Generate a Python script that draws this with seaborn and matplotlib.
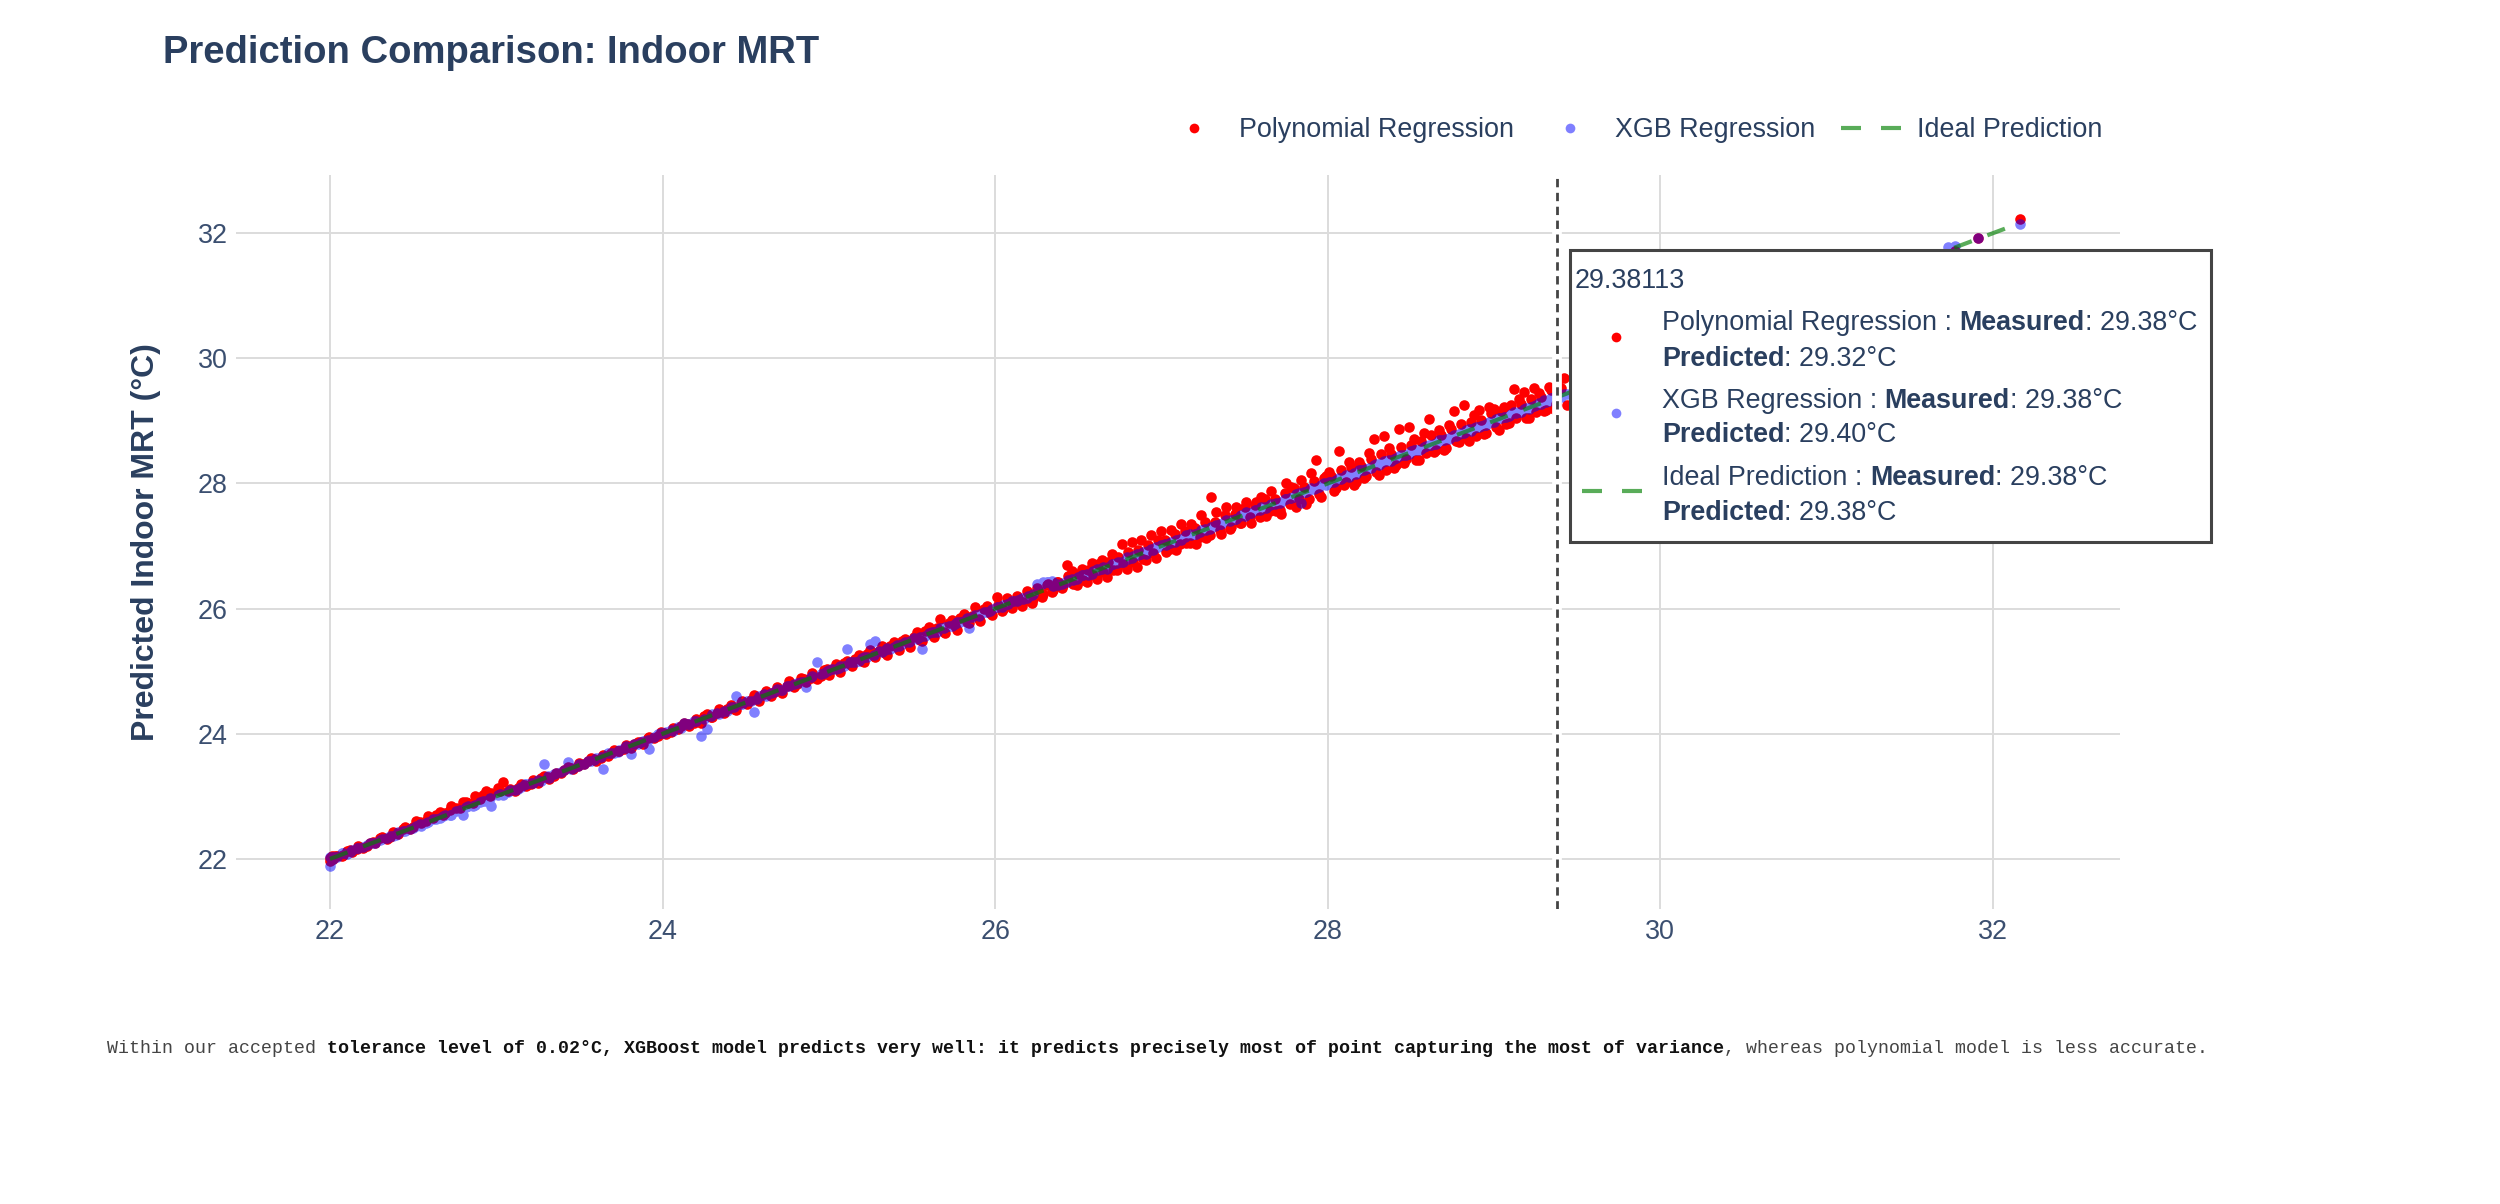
import numpy as np
import pandas as pd
import matplotlib
matplotlib.use("Agg")
import matplotlib.pyplot as plt
import seaborn as sns
from matplotlib.lines import Line2D
from matplotlib.patches import Rectangle

# ---------------- data ----------------
measured = [
    22.00, 22.00, 22.01, 22.02, 22.04, 22.07, 22.10, 22.13, 22.17, 22.20, 22.24, 22.27, 22.31, 22.34, 22.38, 22.41,
    22.45, 22.48, 22.52, 22.55, 22.59, 22.62, 22.66, 22.69, 22.73, 22.76, 22.80, 22.83, 22.87, 22.90, 22.94, 22.97,
    23.01, 23.04, 23.08, 23.11, 23.15, 23.18, 23.22, 23.25, 23.29, 23.32, 23.36, 23.39, 23.43, 23.46, 23.50, 23.53,
    23.57, 23.60, 23.64, 23.67, 23.71, 23.74, 23.78, 23.81, 23.85, 23.88, 23.92, 23.95, 23.99,
    24.02, 24.06, 24.09, 24.13, 24.16, 24.20, 24.23, 24.27, 24.30, 24.34, 24.37, 24.41, 24.44, 24.48, 24.51, 24.55,
    24.58, 24.62, 24.65, 24.69, 24.72, 24.76, 24.79, 24.83, 24.86, 24.90, 24.93, 24.97,
    25.00, 25.04, 25.07, 25.11, 25.14, 25.18, 25.21, 25.25, 25.28, 25.32, 25.35, 25.39, 25.42, 25.46, 25.49, 25.53,
    25.56, 25.60, 25.63, 25.67, 25.70, 25.74, 25.77, 25.81, 25.84, 25.88, 25.91, 25.95, 25.98,
    26.01, 26.04, 26.07, 26.10, 26.13, 26.16, 26.19, 26.22, 26.25, 26.28, 26.31, 26.34, 26.37, 26.40, 26.43, 26.46,
    26.49, 26.52, 26.55, 26.58, 26.61, 26.64, 26.67, 26.70, 26.73, 26.76, 26.79, 26.82, 26.85, 26.88, 26.91, 26.94, 26.97,
    27.00, 27.03, 27.06, 27.09, 27.12, 27.15, 27.18, 27.21, 27.24, 27.27, 27.30, 27.33, 27.36, 27.39, 27.42, 27.45,
    27.48, 27.51, 27.54, 27.57, 27.60, 27.63, 27.66, 27.69, 27.72, 27.75, 27.78, 27.81, 27.84, 27.87, 27.90, 27.93,
    27.96, 27.99,
    28.01, 28.04, 28.07, 28.10, 28.13, 28.16, 28.19, 28.22, 28.25, 28.28, 28.31, 28.34, 28.37, 28.40, 28.43, 28.46,
    28.49, 28.52, 28.55, 28.58, 28.61, 28.64, 28.67, 28.70, 28.73, 28.76, 28.79, 28.82, 28.85, 28.88, 28.91, 28.94,
    28.97, 29.00, 29.03, 29.06, 29.09, 29.12, 29.15, 29.18, 29.21, 29.24, 29.27, 29.30, 29.33, 29.36, 29.39, 29.42, 29.44,
    29.55, 29.80, 30.10, 30.45, 30.90, 31.30, 31.73, 31.77, 31.91, 32.16,
]

# predicted - measured, Polynomial Regression
poly_resid = [
    0.02, -0.04, 0.03, -0.02, 0.01, -0.03, 0.02, -0.02, 0.03, -0.03, 0.02, -0.01, 0.04, -0.02, 0.05, -0.01,
    0.06, 0.00, 0.08, 0.02, 0.10, 0.03, 0.09, 0.04, 0.12, 0.05, 0.11, 0.07, 0.14, 0.06, 0.15, 0.08,
    0.12, 0.19, 0.04, -0.03, 0.05, -0.02, 0.04, -0.03, 0.03, -0.04, 0.02, -0.02, 0.04, -0.03, 0.03, -0.02,
    0.04, -0.04, 0.02, -0.03, 0.03, -0.02, 0.04, -0.03, 0.02, -0.04, 0.03, -0.02, 0.04,
    -0.03, 0.04, -0.02, 0.05, -0.04, 0.03, -0.05, 0.04, -0.03, 0.06, -0.04, 0.05, -0.06, 0.04, -0.03, 0.07,
    -0.05, 0.06, -0.04, 0.05, -0.07, 0.08, -0.05, 0.06, -0.04, 0.07, -0.06, 0.05,
    -0.06, 0.07, -0.08, 0.06, -0.05, 0.08, -0.07, 0.09, -0.06, 0.08, -0.09, 0.07, -0.08, 0.06, -0.10, 0.09,
    -0.07, 0.10, -0.08, 0.16, -0.09, 0.08, -0.11, 0.10, -0.07, 0.14, -0.10, 0.09, -0.08,
    0.18, -0.08, 0.10, -0.09, 0.07, -0.12, 0.09, -0.13, 0.08, -0.10, 0.06, -0.08, 0.05, -0.07, 0.27, 0.14,
    -0.12, 0.12, -0.13, 0.15, -0.14, 0.13, -0.16, 0.18, -0.12, 0.27, -0.15, 0.25, -0.18, 0.22, -0.13, 0.24, -0.16,
    0.24, -0.12, 0.20, -0.15, 0.24, -0.10, 0.18, -0.18, 0.25, -0.14, 0.49, 0.22, -0.16, 0.23, -0.12, 0.17,
    -0.11, 0.20, -0.17, 0.14, 0.19, -0.15, 0.22, -0.13, -0.21, 0.25, 0.16, -0.18, 0.21, -0.20, 0.26, 0.44,
    -0.17, 0.13,
    0.18, -0.16, 0.45, -0.12, 0.22, -0.19, 0.16, -0.14, 0.24, 0.43, -0.17, 0.42, 0.20, -0.15, 0.44, -0.13,
    0.41, 0.19, -0.18, 0.23, 0.42, -0.14, 0.18, -0.16, 0.21, 0.40, -0.12, 0.43, -0.17, 0.22, 0.27, -0.15,
    0.25, 0.19, -0.18, 0.16, -0.13, 0.39, 0.20, 0.28, -0.16, 0.29, 0.18, -0.14, 0.21, -0.17, 0.15, 0.27, -0.18,
    0.05, -0.10, 0.12, -0.06, 0.08, 0.04, -0.08, -0.06, 0.01, 0.06,
]

# predicted - measured, XGB Regression
xgb_resid = [
    -0.11, 0.03, -0.02, 0.01, -0.01, 0.02, -0.02, 0.01, 0.00, -0.01, 0.02, -0.02, 0.01, 0.00, -0.02, 0.02,
    -0.01, 0.00, 0.01, -0.02, 0.00, 0.02, -0.01, 0.01, -0.03, 0.00, -0.10, 0.02, -0.01, 0.01, -0.02, -0.13,
    0.01, -0.02, 0.02, -0.01, 0.00, 0.02, -0.01, 0.01, 0.23, -0.02, 0.01, 0.00, 0.12, -0.01, 0.02, -0.02,
    0.00, 0.01, -0.21, 0.02, -0.01, 0.00, 0.02, -0.13, -0.01, 0.01, -0.17, 0.00, 0.02,
    0.01, -0.01, 0.02, 0.04, -0.01, 0.00, -0.26, -0.19, 0.01, -0.02, 0.00, 0.02, 0.16, -0.01, 0.01, -0.20,
    0.02, -0.01, 0.00, 0.02, -0.02, 0.01, 0.00, -0.01, -0.12, 0.02, 0.21, 0.00,
    0.02, -0.01, 0.01, 0.24, 0.00, -0.02, 0.01, 0.19, 0.21, -0.01, 0.02, 0.00, -0.02, 0.01, 0.00, -0.02,
    -0.20, 0.01, -0.01, 0.02, 0.00, -0.02, 0.01, -0.01, -0.15, 0.02, 0.00, -0.01, 0.02,
    0.01, -0.02, 0.00, 0.02, -0.01, 0.01, -0.02, 0.00, 0.14, 0.12, 0.11, 0.10, 0.02, -0.01, 0.00, 0.02,
    -0.02, 0.01, 0.00, -0.02, 0.03, 0.00, -0.03, 0.02, 0.00, -0.02, 0.03, -0.01, 0.02, 0.00, -0.03, 0.02, 0.01,
    0.02, -0.01, 0.01, 0.00, -0.02, 0.02, 0.00, -0.01, 0.02, -0.02, 0.01, 0.00, -0.01, 0.02, 0.00, -0.02,
    0.01, 0.03, -0.01, 0.00, 0.02, -0.02, 0.01, 0.00, -0.02, 0.01, -0.01, 0.02, -0.15, 0.00, 0.02, -0.01,
    0.01, -0.02,
    0.02, -0.01, 0.01, 0.00, -0.02, 0.01, 0.02, -0.01, 0.00, 0.01, -0.02, 0.02, 0.00, -0.01, 0.01, 0.00,
    -0.02, 0.02, -0.01, 0.00, 0.01, -0.01, 0.02, 0.00, -0.02, 0.01, 0.00, -0.01, 0.02, 0.01, -0.01, 0.00,
    0.02, -0.02, 0.01, 0.00, -0.01, 0.02, 0.00, 0.01, -0.02, 0.00, 0.01, 0.03, -0.01, 0.02, 0.02, 0.01, -0.01,
    0.01, -0.02, 0.03, 0.00, -0.01, 0.02, 0.05, 0.02, 0.01, -0.01,
]

# second batch of observations lying inside the dense core of the band
measured_core = [
    22.03, 22.08, 22.12, 22.16, 22.22, 22.26, 22.30, 22.36, 22.40, 22.44, 22.50, 22.54, 22.58, 22.64, 22.68,
    22.72, 22.78, 22.82, 22.86, 22.92, 22.96,
    23.02, 23.07, 23.13, 23.17, 23.21, 23.27, 23.31, 23.35, 23.41, 23.45, 23.49, 23.55, 23.59, 23.63, 23.69,
    23.73, 23.77, 23.83, 23.87, 23.91, 23.97,
    24.01, 24.05, 24.11, 24.15, 24.19, 24.25, 24.29, 24.33, 24.39, 24.43, 24.47, 24.53, 24.57, 24.61, 24.67,
    24.71, 24.75, 24.81, 24.85, 24.89, 24.95, 24.99,
    25.02, 25.06, 25.09, 25.13, 25.16, 25.20, 25.23, 25.27, 25.30, 25.34, 25.37, 25.41, 25.44, 25.48, 25.51,
    25.55, 25.58, 25.62, 25.65, 25.69, 25.72, 25.76, 25.79, 25.83, 25.86, 25.90, 25.93, 25.97,
    26.02, 26.05, 26.08, 26.11, 26.14, 26.17, 26.20, 26.23, 26.26, 26.29, 26.32, 26.35, 26.38, 26.41, 26.44,
    26.47, 26.50, 26.53, 26.56, 26.59, 26.62, 26.65, 26.68, 26.71, 26.74, 26.77, 26.80, 26.83, 26.86, 26.89,
    26.92, 26.95, 26.98,
    27.02, 27.05, 27.08, 27.11, 27.14, 27.17, 27.20, 27.23, 27.26, 27.29, 27.32, 27.35, 27.38, 27.41, 27.44,
    27.47, 27.50, 27.53, 27.56, 27.59, 27.62, 27.65, 27.68, 27.71, 27.74, 27.77, 27.80, 27.83, 27.86, 27.89,
    27.92, 27.95, 27.98,
    28.02, 28.05, 28.08, 28.11, 28.14, 28.17, 28.20, 28.23, 28.26, 28.29, 28.32, 28.35, 28.38, 28.41, 28.44,
    28.47, 28.50, 28.53, 28.56, 28.59, 28.62, 28.65, 28.68, 28.71, 28.74, 28.77, 28.80, 28.83, 28.86, 28.89,
    28.92, 28.95, 28.98, 29.01, 29.04, 29.07, 29.10, 29.13, 29.16, 29.19, 29.22, 29.25, 29.28, 29.31, 29.34,
    29.37, 29.40,
]
poly_resid_core = [
    0.01, -0.01, 0.02, 0.00, -0.02, 0.01, 0.03, -0.01, 0.02, 0.04, 0.01, 0.05, 0.03, 0.06, 0.02,
    0.07, 0.04, 0.09, 0.03, 0.10, 0.05,
    0.06, 0.02, 0.00, 0.01, -0.01, 0.02, 0.00, -0.02, 0.01, 0.00, -0.01, 0.02, 0.00, -0.01, 0.01,
    0.00, -0.02, 0.01, 0.00, 0.02, -0.01,
    0.01, -0.02, 0.02, 0.00, -0.01, 0.03, -0.02, 0.01, 0.00, -0.03, 0.02, 0.01, -0.02, 0.03, 0.00,
    -0.03, 0.02, -0.01, 0.03, 0.00, -0.02, 0.04,
    0.02, -0.03, 0.04, -0.02, 0.03, -0.04, 0.05, -0.03, 0.02, -0.05, 0.04, -0.02, 0.05, -0.04, 0.03,
    -0.05, 0.06, -0.03, 0.04, -0.06, 0.05, -0.04, 0.06, -0.05, 0.03, -0.06, 0.07, -0.04,
    0.04, -0.05, 0.06, -0.04, 0.03, -0.06, 0.05, -0.07, 0.04, -0.05, 0.07, -0.06, 0.05, -0.04, 0.08,
    -0.07, 0.06, -0.08, 0.05, -0.06, 0.09, -0.07, 0.06, -0.09, 0.08, -0.05, 0.10, -0.08, 0.07, -0.10,
    0.09, -0.06, 0.11,
    0.08, -0.10, 0.12, -0.07, 0.10, -0.12, 0.09, -0.08, 0.13, -0.11, 0.07, -0.09, 0.11, -0.13, 0.08,
    -0.10, 0.12, -0.07, 0.10, -0.12, 0.14, -0.09, 0.08, -0.14, 0.11, -0.10, 0.13, -0.08, 0.09, -0.13,
    0.12, -0.11, 0.10,
    0.10, -0.12, 0.14, -0.09, 0.12, -0.14, 0.08, -0.11, 0.13, -0.10, 0.15, -0.13, 0.09, -0.12, 0.14,
    -0.08, 0.11, -0.15, 0.12, -0.10, 0.16, -0.12, 0.10, -0.14, 0.13, -0.09, 0.15, -0.11, 0.12, -0.13,
    0.10, -0.15, 0.14, -0.10, 0.12, -0.12, 0.16, -0.09, 0.11, -0.14, 0.13, -0.11, 0.10, -0.13, 0.15,
    -0.10, 0.12,
]
xgb_resid_core = [
    0.00, 0.01, -0.01, 0.02, 0.00, -0.01, 0.01, 0.00, -0.02, 0.01, 0.00, 0.02, -0.01, 0.00, 0.01,
    -0.02, 0.00, 0.01, -0.01, 0.00, 0.02,
    0.01, 0.00, -0.01, 0.02, 0.00, -0.02, 0.01, 0.00, 0.01, -0.01, 0.00, 0.02, -0.01, 0.00, 0.01,
    -0.02, 0.00, 0.01, 0.00, -0.01, 0.02,
    0.00, 0.01, -0.01, 0.00, 0.02, -0.01, 0.00, 0.01, -0.02, 0.00, 0.01, 0.00, -0.01, 0.02, 0.00,
    -0.01, 0.01, 0.00, -0.02, 0.01, 0.00, 0.01,
    0.01, -0.01, 0.00, 0.02, -0.02, 0.01, 0.00, -0.01, 0.02, 0.00, -0.02, 0.01, 0.00, -0.01, 0.02,
    0.00, -0.01, 0.01, -0.02, 0.00, 0.01, 0.00, -0.01, 0.02, 0.00, -0.02, 0.01, 0.00,
    0.00, 0.01, -0.01, 0.02, 0.00, -0.02, 0.01, 0.00, 0.12, 0.13, 0.10, 0.01, -0.01, 0.00, 0.02,
    -0.01, 0.01, 0.00, -0.02, 0.01, 0.00, 0.02, -0.01, 0.00, 0.01, -0.02, 0.00, 0.01, -0.01, 0.02,
    0.00, -0.01, 0.01,
    0.01, 0.00, -0.02, 0.01, 0.00, 0.02, -0.01, 0.00, 0.01, -0.02, 0.00, 0.01, 0.02, -0.01, 0.00,
    0.01, -0.02, 0.00, 0.02, -0.01, 0.00, 0.01, 0.00, -0.02, 0.01, 0.00, -0.01, 0.02, 0.00, 0.01,
    -0.01, 0.00, 0.02,
    0.00, 0.01, -0.01, 0.02, 0.00, -0.02, 0.01, 0.00, -0.01, 0.02, 0.00, 0.01, -0.02, 0.00, 0.01,
    -0.01, 0.02, 0.00, -0.01, 0.01, 0.00, -0.02, 0.02, 0.00, 0.01, -0.01, 0.00, 0.02, -0.02, 0.01,
    0.00, -0.01, 0.01, 0.02, 0.00, -0.01, 0.01, 0.00, -0.02, 0.02, 0.00, 0.01, -0.01, 0.00, 0.02,
    0.01, -0.01,
]

series_names = ["Polynomial Regression", "XGB Regression", "Ideal Prediction"]
x_ticks = [22, 24, 26, 28, 30, 32]
y_ticks = [22, 24, 26, 28, 30, 32]
x_limits = [21.435, 32.764]
y_limits = [21.20, 32.93]

hover_x = 29.38113
hover_measured = [29.38, 29.38, 29.38]
hover_predicted = [29.32, 29.40, 29.38]

title_text = "Prediction Comparison: Indoor MRT"
y_label = "Predicted Indoor MRT (°C)"
note_parts = [
    ("Within our accepted ", "normal"),
    ("tolerance level of 0.02°C, XGBoost model predicts very well: it predicts precisely most of point "
     "capturing the most of variance", "bold"),
    (", whereas polynomial model is less accurate.", "normal"),
]

RED = "#ff0000"
BLUE = "#0000ff"
GREEN = "#008000"
INK = "#2a3f5f"
GRID = "#dcdcdc"

df_a = pd.DataFrame({"Measured": measured, "pr": poly_resid, "xr": xgb_resid})
df_b = pd.DataFrame({"Measured": measured_core, "pr": poly_resid_core, "xr": xgb_resid_core})
df = pd.concat([df_a, df_b], ignore_index=True)
df["Polynomial"] = (df["Measured"] + df["pr"]).round(3)
df["XGB"] = (df["Measured"] + df["xr"]).round(3)
df["Ideal"] = df["Measured"]

sns.set_theme(style="white")
plt.rcParams["font.family"] = ["Liberation Sans", "DejaVu Sans"]

W, H = 2500, 1204
fig = plt.figure(figsize=(W / 100, H / 100), dpi=100)
L, R, T, B = 236, 2120, 175, 909
ax = fig.add_axes([L / W, 1 - B / H, (R - L) / W, (B - T) / H])


def group_opacity(im, dpi):
    # trace-level opacity: the whole group of markers is composited at once
    out = im.copy()
    out[..., 3] = out[..., 3] * 0.7071
    return out, 0, 0


sns.scatterplot(data=df, x="Measured", y="Polynomial", color=RED, s=58, linewidth=0,
                ax=ax, zorder=3, legend=False)
sns.scatterplot(data=df, x="Measured", y="XGB", color=BLUE, s=58, linewidth=0,
                ax=ax, zorder=4, legend=False)
ax.collections[-1].set_agg_filter(group_opacity)
sns.lineplot(data=df, x="Measured", y="Ideal", estimator=None, sort=True, color=GREEN,
             alpha=0.65, lw=3, ax=ax, zorder=5, legend=False)
ax.lines[-1].set_dashes((4.5, 4))

# hover spike line
ax.axvline(hover_x, color="white", lw=7, zorder=6)
ax.axvline(hover_x, color="#444444", lw=2.0, dashes=(3, 2), zorder=7)

ax.set_xlim(x_limits)
ax.set_ylim(y_limits)
ax.set_xticks(x_ticks)
ax.set_yticks(y_ticks)
ax.grid(True, color=GRID, lw=1.4)
ax.set_axisbelow(True)
for sp in ax.spines.values():
    sp.set_visible(False)
ax.tick_params(axis="both", length=0, labelsize=19.4, labelcolor="#3b4f70")
ax.tick_params(axis="x", pad=7)
ax.tick_params(axis="y", pad=6)
ax.set_xlabel("")
ax.set_ylabel(y_label, fontsize=23, fontweight="bold", color=INK)
ax.yaxis.set_label_coords(-0.040, 0.5)

# title
fig.text(163 / W, 1 - 63 / H, title_text, ha="left", va="baseline", fontsize=27.5,
         fontweight="bold", color=INK)

# legend
handles = [
    Line2D([], [], ls="", marker="o", ms=7, mfc=RED, mec="none"),
    Line2D([], [], ls="", marker="o", ms=7, mfc=BLUE, mec="none", alpha=0.5),
    Line2D([], [], color=GREEN, alpha=0.65, lw=3, dashes=(4.8, 4.8)),
]
fig.legend(handles, series_names, loc="center left", bbox_to_anchor=(1164 / W, 1 - 130 / H),
           ncol=3, frameon=False, fontsize=19.4, handlelength=2.2, handletextpad=0.6,
           columnspacing=0.95, borderpad=0, borderaxespad=0, labelcolor=INK)

renderer = fig.canvas.get_renderer()


def advance(s, **kw):
    a = fig.text(0, 0, "|" + s + "|", **kw)
    b = fig.text(0, 0, "||", **kw)
    w = a.get_window_extent(renderer).width - b.get_window_extent(renderer).width
    a.remove()
    b.remove()
    return w


def rich(x_px, base_px, pieces, zorder=22, **common):
    x = x_px
    for s, weight, color in pieces:
        fig.text(x / W, 1 - base_px / H, s, ha="left", va="baseline", fontweight=weight,
                 color=color, zorder=zorder, **common)
        x += advance(s, fontweight=weight, **common)


# hover box
bx0, by0, bx1, by1 = 1570, 250, 2211, 542
fig.add_artist(Rectangle((bx0 / W, 1 - by1 / H), (bx1 - bx0) / W, (by1 - by0) / H,
                         transform=fig.transFigure, facecolor="white", edgecolor="#444444",
                         lw=2.2, zorder=20))
hsize = 19.4
hpx = hsize * 100 / 72
cap = 0.36 * hpx
sans = ["Liberation Sans", "DejaVu Sans"]
rich(1575, 278 + cap, [(f"{hover_x:.5f}", "normal", INK)], fontsize=hsize, family=sans)
line_centres = [(320, 356), (398, 432), (475, 510)]
marker_y = [337, 413, 491]
for i, name in enumerate(series_names):
    y1, y2 = line_centres[i]
    rich(1662, y1 + cap, [(f"{name} : ", "normal", INK), ("Measured", "bold", INK),
                          (f": {hover_measured[i]:.2f}°C", "normal", INK)],
         fontsize=hsize, family=sans)
    rich(1662, y2 + cap, [("Predicted", "bold", INK), (f": {hover_predicted[i]:.2f}°C", "normal", INK)],
         fontsize=hsize, family=sans)
fig.add_artist(Line2D([1616 / W], [1 - marker_y[0] / H], ls="", marker="o", ms=7, mfc=RED,
                      mec="none", transform=fig.transFigure, zorder=21))
fig.add_artist(Line2D([1616 / W], [1 - marker_y[1] / H], ls="", marker="o", ms=7, mfc=BLUE,
                      mec="none", alpha=0.5, transform=fig.transFigure, zorder=21))
fig.add_artist(Line2D([1582 / W, 1644 / W], [1 - marker_y[2] / H, 1 - marker_y[2] / H], color=GREEN,
                      alpha=0.65, lw=3, dashes=(4.8, 4.8), transform=fig.transFigure, zorder=21))

# footnote
note_pieces = [(s, w, "#111111" if w == "bold" else "#444444") for s, w in note_parts]
rich(107, 1053, note_pieces, fontsize=13.15, family=["Liberation Mono", "DejaVu Sans Mono"])

fig.savefig("out.png", dpi=100)
